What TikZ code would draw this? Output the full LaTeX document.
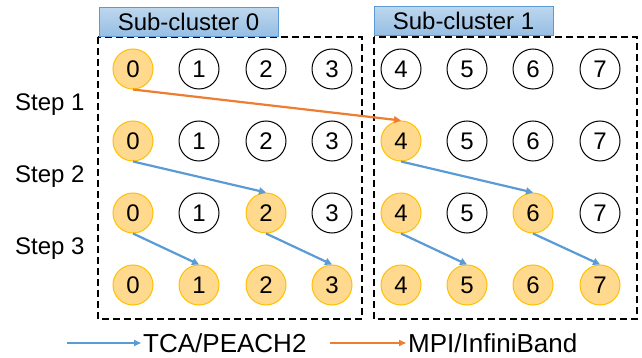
\documentclass[tikz,border=0pt]{standalone}
\usepackage{fontspec}
\setmainfont{Liberation Sans}
\usepackage{xcolor}
\usetikzlibrary{arrows.meta,positioning}

\definecolor{tcablue}{RGB}{91,155,213}
\definecolor{mpiorange}{RGB}{237,125,49}
\definecolor{procfill}{RGB}{255,217,142}
\definecolor{procline}{RGB}{255,192,0}
\definecolor{tagtop}{RGB}{189,215,238}
\definecolor{tagbot}{RGB}{150,190,228}

\begin{document}
\begin{tikzpicture}[
    x=1pt, y=-1pt,
    font=\fontsize{24}{28}\selectfont,
    proc/.style={circle, draw, line width=1pt, minimum size=40pt, inner sep=0pt},
    tag/.style={draw=tcablue, line width=0.8pt, top color=tagtop, bottom color=tagbot, minimum width=179pt, minimum height=29pt, inner sep=0pt},
    group/.style={draw, line width=2.2pt, dash pattern=on 7pt off 4pt},
    lbl/.style={anchor=west, inner sep=2pt},
    tca/.style={draw=tcablue, line width=2.2pt, -{Triangle[length=7pt,width=7pt]}},
    mpi/.style={tca, draw=mpiorange},
    key/.style={line width=1.6pt, -{Triangle[length=7pt,width=6pt]}}
]
\useasboundingbox (0,0) rectangle (642,358);

% Sub-clusters
\draw[group] (98,37) rectangle (362,319);
\draw[group] (374,37) rectangle (637,319);
\node[tag] (tag0) at (188.5,22) {Sub-cluster 0};
\node[tag] (tag1) at (463.5,21) {Sub-cluster 1};

% Processes, one row per step
\foreach \r [evaluate=\r as \y using 69+72*\r] in {0,1,2,3}{
  \foreach \c/\x in {0/133,1/199,2/266,3/332,4/401,5/467,6/533,7/600}{
    \pgfmathtruncatemacro\stride{2^(3-\r)}
    \pgfmathtruncatemacro\hit{mod(\c,\stride)==0 ? 1 : 0}
    \ifnum\hit=1 \def\fc{procfill}\def\dc{procline}\else\def\fc{white}\def\dc{black}\fi
    \node[proc, fill=\fc, draw=\dc] (n-\r-\c) at (\x,\y) {\c};
  }
}

% Steps
\node[lbl] (step1) at (13,105) {Step 1};
\node[lbl] (step2) at (13,177) {Step 2};
\node[lbl] (step3) at (13,249) {Step 3};

\draw[mpi] (n-0-0.south) -- (n-1-4.north);
\foreach \a/\b in {1-0/2-2, 1-4/2-6, 2-0/3-1, 2-2/3-3, 2-4/3-5, 2-6/3-7}
  \draw[tca] (n-\a.south) -- (n-\b.north);

% Legend
\coordinate (tca-start) at (67,343);
\node[lbl, font=\fontsize{26}{30}\selectfont] (tca-txt) at (141,343) {TCA/PEACH2};
\coordinate (mpi-start) at (330,343);
\node[lbl, font=\fontsize{26}{30}\selectfont] (mpi-txt) at (406,343) {MPI/InfiniBand};
\draw[key, draw=tcablue, fill=tcablue] (tca-start) -- (tca-txt.west);
\draw[key, draw=mpiorange, fill=mpiorange] (mpi-start) -- (mpi-txt.west);
\end{tikzpicture}
\end{document}
